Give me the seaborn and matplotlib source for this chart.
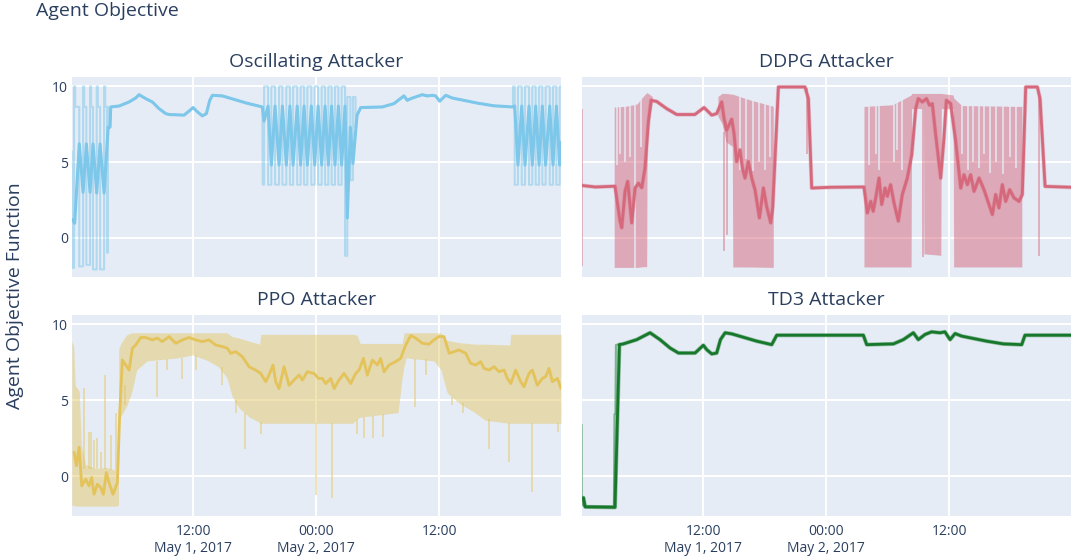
import numpy as np
import seaborn as sns
import matplotlib.pyplot as plt

# all times are hours since 2017-05-01 00:00
nan = np.nan

# ---- Oscillating attacker ----
osc_b1_raw_h = [0.17, 0.2, 0.39, 0.39, 0.5, 0.5, 0.9, 0.9, 1.27, 1.27, 1.38, 1.38, 1.59, 1.59,
                1.95, 1.95, 2.06, 2.06, 2.24, 2.24, 2.6, 2.6, 2.71, 2.71, 2.93, 2.93, 3.32, 3.32,
                3.43, 3.43, 3.62, 3.62, 3.68, 3.68, 3.72, 3.9]
osc_b1_raw_v = [5.7, -2.0, -2.0, 10.0, 10.0, 8.65, 8.65, -1.9, -1.9, 10.0, 10.0, 8.65, 8.65, -1.8,
                -1.8, 10.0, 10.0, 8.65, 8.65, -2.1, -2.1, 10.0, 10.0, 8.65, 8.65, -2.1, -2.1, 10.0,
                10.0, 8.65, 8.65, -1.0, -1.0, 8.65, 7.3, 7.3]
osc_b1_smooth_h = [0.25, 0.45, 0.9, 1.27, 1.59, 1.95, 2.24, 2.6, 2.93, 3.32, 3.72, 3.9]
osc_b1_smooth_v = [1.2, 0.95, 6.2, 3.0, 6.2, 3.0, 6.2, 2.95, 6.2, 2.95, 7.3, 7.3]

osc_mid1_h = [3.97, 4.78, 5.76, 6.4, 6.73, 7.38, 8.03, 8.68, 9.33, 9.66, 11.12, 11.6, 12.0, 12.42,
              12.9, 13.3, 13.63, 13.89, 14.86, 17.2, 18.76]
osc_mid1_v = [8.64, 8.7, 8.97, 9.23, 9.45, 9.19, 8.97, 8.53, 8.2, 8.14, 8.1, 8.36, 8.6, 8.32,
              8.05, 8.2, 9.08, 9.41, 9.37, 8.9, 8.64]

osc_b2_raw_h = [18.8, 18.93, 18.93, 19.32, 19.32, 19.64, 19.64, 20.0, 20.0, 20.39, 20.39, 20.72,
                20.72, 21.1, 21.1, 21.45, 21.45, 21.76, 21.76, 22.16, 22.16, 22.5, 22.5, 22.83,
                22.83, 23.15, 23.15, 23.54, 23.54, 23.87, 23.87, 24.2, 24.2, 24.55, 24.55, 24.88,
                24.88, 25.2, 25.2, 25.52, 25.52, 25.85, 25.85, 26.18, 26.18, 26.5, 26.5, 26.83,
                26.83, 27.05, 27.05, 27.35, 27.35, 27.6, 27.6, 27.85, 27.85, 28.0]
osc_b2_raw_v = [3.5, 3.5, 10, 10, 3.5, 3.5, 10, 10, 3.5, 3.5, 10, 10, 3.5, 3.5, 10, 10,
                3.5, 3.5, 10, 10, 3.5, 3.5, 10, 10, 3.5, 3.5, 10, 10, 3.5, 3.5, 10, 10,
                3.5, 3.5, 10, 10, 3.5, 3.5, 10, 10, 3.5, 3.5, 10, 10, 3.5, 3.5, 10, 10,
                -1.2, -1.2, 9.3, 9.3, 3.8, 3.8, 9.3, 9.3, 7.3, 8.0]
osc_b2_smooth_h = [18.93, 19.32, 19.64, 20.0, 20.39, 20.72, 21.1, 21.45, 21.76, 22.16, 22.5, 22.83,
                   23.15, 23.54, 23.87, 24.2, 24.55, 24.88, 25.2, 25.52, 25.85, 26.18, 26.5, 26.83,
                   27.05, 27.35, 27.6, 28.0]
osc_b2_smooth_v = [7.7, 8.7, 4.8, 8.7, 4.8, 8.7, 4.8, 8.7, 4.8, 8.7, 4.8, 8.7,
                   4.8, 8.7, 4.8, 8.7, 4.8, 8.7, 4.8, 8.7, 4.8, 8.7, 4.8, 8.7,
                   1.3, 7.3, 4.9, 8.1]

osc_mid2_h = [28.36, 30.47, 31.6, 32.58, 32.9, 33.4, 34.37, 34.86, 35.35, 35.67, 36.07, 36.65,
              37.3, 39.7, 41.3, 43.15]
osc_mid2_v = [8.6, 8.64, 8.86, 9.37, 9.08, 9.23, 9.45, 9.37, 9.41, 9.37, 9.02, 9.41,
              9.23, 8.9, 8.72, 8.64]

osc_b3_raw_h = [43.22, 43.22, 43.38, 43.38, 43.7, 43.7, 44.07, 44.07, 44.39, 44.39, 44.78, 44.78,
                45.1, 45.1, 45.43, 45.43, 45.76, 45.76, 46.08, 46.08, 46.4, 46.4, 46.8, 46.8,
                47.12, 47.12, 47.45, 47.45, 47.77, 47.77, 47.9]
osc_b3_raw_v = [8.64, 10, 10, 3.5, 3.5, 10, 10, 3.5, 3.5, 10, 10, 3.5, 3.5, 10, 10, 3.5,
                3.5, 10, 10, 3.5, 3.5, 10, 10, 3.5, 3.5, 10, 10, 3.5, 3.5, 10, 10]
osc_b3_smooth_h = [43.38, 43.7, 44.07, 44.39, 44.78, 45.1, 45.43, 45.76, 46.08, 46.4, 46.8, 47.12,
                   47.45, 47.77, 47.9]
osc_b3_smooth_v = [8.7, 4.8, 8.7, 4.8, 8.7, 4.8, 8.7, 4.8, 8.7, 4.8, 8.7, 4.8, 8.7, 4.8, 6.3]

# ---- DDPG attacker ----
ddpg_h = [0.17, 1.5, 3.41, 3.9, 4.07, 4.39, 4.65, 5.04, 5.37, 5.7, 6.02, 6.34, 6.67, 6.93, 7.48,
          8.45, 9.43, 11.2, 12.1, 12.85, 13.33, 13.82, 14.05, 14.3, 14.8, 15.02, 15.28, 15.6,
          15.84, 16.1, 16.42, 16.75, 17.07, 17.5, 17.89, 18.2, 18.6, 18.8, 19.35, 21.95, 22.28,
          22.6, 24.4, 27.7, 28.03, 28.36, 28.6, 28.85, 29.17, 29.43, 29.76, 29.98, 30.3, 30.63,
          31.05, 31.44, 31.93, 32.36, 32.75, 33.0, 33.4, 33.8, 34.1, 34.37, 34.7, 35.19, 35.5,
          35.74, 36.16, 36.65, 37.14, 37.46, 37.79, 38.11, 38.44, 38.93, 39.41, 39.9, 40.23,
          40.55, 40.87, 41.2, 41.53, 41.92, 42.34, 42.83, 43.15, 43.48, 44.62, 44.88, 45.37, 47.9]
ddpg_v = [3.45, 3.35, 3.4, 1.1, 0.66, 3.06, 3.72, 0.98, 3.28, 3.6, 3.3, 4.6, 7.66, 9.08, 9.0,
          8.53, 8.14, 8.14, 8.6, 8.1, 8.2, 8.97, 7.88, 7.1, 7.83, 6.9, 5.03, 5.8,
          4.6, 3.94, 5.03, 3.94, 3.17, 1.31, 3.28, 2.08, 0.98, 2.0, 9.96, 9.96, 9.19,
          3.28, 3.33, 3.35, 1.64, 2.4, 1.75, 2.63, 3.94, 2.19, 3.28, 2.74, 3.5, 2.3,
          1.1, 2.85, 3.94, 5.47, 8.53, 9.19, 8.97, 9.19, 8.75, 8.86, 6.78, 3.94, 6.56,
          9.08, 8.86, 6.35, 3.28, 4.16, 3.5, 4.16, 3.06, 3.94, 3.17, 2.19, 1.53,
          2.85, 1.97, 3.5, 2.4, 3.17, 2.63, 2.4, 2.85, 9.96, 9.96, 9.19, 3.39, 3.33]
ddpg_band_h = [3.38, 4.5, 5.6, 6.2, 6.55, 6.6, 7.1, 7.2, 13.5, 13.9, 14.3, 14.9, 14.95, 16.5, 18.9,
               19.0, 27.75, 30.5, 31.8, 32.35, 32.4, 33.55, 33.6, 35.25, 35.3, 36.45, 36.5, 37.3,
               43.15, 43.2]
ddpg_band_lo = [-2.0, -2.0, -2.0, -1.95, -1.95, 7.0, 8.9, nan, 8.0, 7.5, 6.3, 6.0, -1.97, -1.97,
                -2.0, nan, -1.97, -1.97, -1.97, -1.97, 8.5, 8.5, -1.1, -1.2, 8.5, 8.5, -1.97,
                -1.97, -1.97, nan]
ddpg_band_hi = [8.6, 8.65, 8.8, 9.3, 9.55, 9.55, 9.3, nan, 9.3, 9.5, 9.5, 9.45, 9.45, 9.1, 8.65,
                nan, 8.64, 8.75, 9.2, 9.4, 9.5, 9.5, 9.5, 9.5, 9.5, 9.4, 9.2, 8.7, 8.64, nan]
ddpg_gap_h = [3.62, 3.9, 4.4, 4.88, 5.38, 5.9, 15.6, 16.2, 16.9, 17.5, 18.0, 18.5, 28.2, 28.85,
              29.2, 30.6, 30.95, 31.4, 37.3, 37.85, 38.3, 38.95, 39.4, 39.95, 40.6, 41.3, 41.9, 42.5]
ddpg_gap_lo = [4.8, 5.5, 5.0, 5.3, -2.0, 6.0, 4.5, 5.2, 4.4, 5.0, 4.5, 5.3, 4.8, 5.5,
               4.5, 5.0, 5.8, 4.5, 5.5, 4.5, 5.0, 4.6, 5.5, 4.3, 5.0, 4.2, 5.3, 4.6]
ddpg_gap_hi = [9.6] * len(ddpg_gap_h)
ddpg_spike_h = [0.17, 14.08, 14.3, 22.1, 33.45, 44.8]
ddpg_spike_lo = [-1.9, -0.9, 0.2, 5.5, -1.3, -1.2]
ddpg_spike_hi = [8.5, 7.0, 7.0, 9.9, 8.5, 9.6]

# ---- PPO attacker ----
ppo_h = [0.39, 0.62, 0.88, 1.14, 1.53, 1.85, 2.11, 2.34, 2.67, 2.99, 3.25, 3.54, 3.8, 4.19, 4.62,
         4.85, 5.1, 5.43, 5.76, 6.08, 6.41, 6.9, 7.38, 8.03, 8.52, 9.0, 9.66, 10.31, 10.96, 11.6,
         12.26, 12.9, 13.56, 14.2, 14.86, 15.35, 15.67, 16.16, 16.81, 17.46, 18.1, 18.6, 19.09,
         19.41, 19.8, 20.07, 20.39, 20.88, 21.37, 21.85, 22.34, 22.67, 23.15, 23.8, 24.23, 24.62,
         24.94, 25.43, 25.76, 26.24, 26.73, 27.06, 27.38, 27.87, 28.2, 28.62, 29.0, 29.5, 29.98,
         30.3, 30.63, 31.12, 31.77, 32.26, 32.75, 33.24, 33.72, 34.37, 35.02, 35.5, 35.98, 36.49,
         36.98, 37.46, 37.95, 38.6, 39.09, 39.58, 40.07, 40.39, 40.88, 41.37, 41.85, 42.34, 42.67,
         42.99, 43.48, 43.97, 44.29, 44.78, 45.1, 45.59, 46.08, 46.4, 46.73, 47.06, 47.55, 47.9]
ppo_v = [1.59, 0.71, 1.92, -0.62, -0.18, -0.62, -0.07, -1.17, -0.51, -0.73, -1.17, 0.26, -0.4,
         -1.17, -0.4, 4.24, 7.66, 7.33, 7.0, 8.43, 8.65, 9.14, 9.14, 8.98, 9.1, 8.87, 9.2, 8.76,
         8.98, 9.14, 8.98, 8.87, 8.98, 8.65, 8.54, 8.43, 8.1, 8.21, 7.88, 7.22, 7.0, 6.78, 6.23,
         6.67, 7.33, 6.23, 5.78, 7.22, 6.0, 6.34, 6.67, 6.34, 6.89, 6.78, 6.45, 6.45, 6.11, 6.45,
         5.78, 6.34, 6.78, 6.45, 6.11, 6.78, 7.0, 7.77, 6.67, 7.66, 7.33, 7.77, 6.89, 7.33, 7.55,
         7.77, 8.65, 9.27, 9.1, 8.76, 8.7, 8.98, 9.2, 9.2, 8.1, 8.21, 8.32, 8.1, 7.44, 7.33, 7.55,
         7.11, 7.0, 7.22, 6.89, 7.0, 6.45, 6.11, 7.0, 6.23, 5.9, 6.78, 7.0, 6.0, 6.45, 6.56, 7.11,
         6.23, 6.45, 5.78]
ppo_band_h = [0.17, 0.35, 0.5, 0.9, 1.1, 1.5, 2.5, 3.5, 4.5, 4.72, 4.75, 5.0, 5.5, 6.0, 6.5, 7.5,
              9.0, 10.5, 12.0, 13.5, 14.5, 15.3, 15.8, 16.5, 17.5, 18.5, 18.6, 23.0, 27.6, 28.0,
              28.3, 32.0, 32.4, 32.6, 32.8, 35.5, 36.2, 36.5, 36.8, 38.0, 39.5, 40.5, 42.9, 43.0, 47.9]
ppo_band_lo = [-1.9, -1.9, -1.95, -1.95, -1.95, -1.95, -1.95, -1.95, -1.95, -1.9, 3.8, 4.0, 4.6,
               5.5, 7.0, 7.6, 7.7, 7.8, 8.0, 7.6, 7.2, 6.5, 5.3, 4.5, 3.9, 3.55, 3.5, 3.5, 3.5, 3.8,
               3.9, 4.2, 6.5, 7.3, 7.8, 7.6, 7.0, 6.2, 5.5, 4.8, 4.2, 3.7, 3.5, 3.5, 3.5]
ppo_band_hi = [8.9, 8.6, 6.0, 5.6, 2.0, 0.8, 0.5, 0.6, 0.4, 0.6, 8.4, 8.8, 9.3, 9.45, 9.45, 9.45,
               9.45, 9.45, 9.45, 9.45, 9.45, 9.45, 9.2, 9.1, 8.9, 8.7, 9.35, 9.35, 9.35, 9.3,
               8.75, 8.75, 8.75, 9.45, 9.45, 9.45, 9.45, 9.1, 8.95, 8.8, 8.7, 8.7, 8.65, 9.35, 9.35]
ppo_spike_h = [1.37, 1.8, 2.0, 2.3, 2.67, 3.0, 3.41, 3.97, 4.45, 5.4, 8.52, 9.5, 10.9, 12.26, 14.86,
               16.16, 17.1, 18.6, 23.97, 25.55, 28.0, 28.7, 29.6, 30.5, 33.7, 34.7, 37.3, 38.3,
               40.85, 42.8, 45.05, 47.62]
ppo_spike_lo = [0.5, 0.5, 0.5, 0.5, 0.5, 0.5, 0.5, 0.4, 0.4, 4.7, 5.2, 7.0, 6.4, 7.0, 6.0, 4.2,
                1.8, 2.8, -1.25, -1.4, 2.8, 2.5, 2.5, 2.6, 4.6, 6.7, 4.7, 4.2, 1.8, 0.95, -1.05, 2.9]
ppo_spike_hi = [5.8, 2.9, 2.9, 2.4, 2.5, 1.6, 6.7, 2.7, 4.2, 6.0, 7.6, 7.7, 7.8, 8.0, 7.2, 5.0,
                4.2, 3.6, 3.5, 3.5, 3.8, 3.9, 4.0, 4.1, 7.7, 7.7, 5.2, 4.8, 3.8, 3.5, 3.5, 3.5]

# ---- TD3 attacker ----
td3_h = [0.33, 0.5, 3.41, 3.84, 4.23, 5.53, 6.83, 7.8, 8.78, 9.6, 11.22, 12.03, 12.36, 12.85,
         13.33, 13.7, 14.15, 14.8, 17.24, 18.7, 19.19, 27.64, 27.97, 30.57, 31.54, 32.52, 33.0,
         33.66, 34.3, 35.12, 35.6, 36.1, 36.59, 37.24, 39.67, 41.3, 43.09, 43.41, 47.9]
td3_v = [-1.4, -2.0, -2.03, 8.67, 8.72, 9.0, 9.45, 9.0, 8.45, 8.12, 8.12, 8.63, 8.34, 8.06,
         8.12, 9.0, 9.45, 9.38, 8.9, 8.67, 9.29, 9.29, 8.67, 8.72, 9.0, 9.45, 9.0,
         9.34, 9.51, 9.45, 9.51, 9.0, 9.4, 9.23, 8.9, 8.72, 8.67, 9.29, 9.29]
td3_raw_h = [0.16, 0.17, 0.3, 0.36, 0.45, 3.3, 3.36, 3.45, 3.5, 3.9]
td3_raw_v = [3.4, -1.8, -1.9, -1.4, -1.97, -1.97, 4.1, 4.1, 8.65, 8.7]

x_ticks = [12, 24, 36]
x_labels = ["12:00\nMay 1, 2017", "00:00\nMay 2, 2017", "12:00"]
y_ticks = [0, 5, 10]

BG = "#E5ECF6"
INK = "#2a3f5f"
C_OSC = "#7cc7ea"
C_DDPG = "#d6687c"
C_PPO = "#e3c35a"
C_TD3 = "#17782b"

sns.set_theme(style="darkgrid", rc={
    "axes.facecolor": BG,
    "grid.color": "white",
    "grid.linewidth": 1.4,
    "text.color": INK,
    "xtick.color": INK,
    "ytick.color": INK,
})
plt.rcParams["font.family"] = ["Open Sans", "DejaVu Sans"]

W, H = 1072, 556
fig = plt.figure(figsize=(W / 100, H / 100), dpi=100)


def make_ax(left, top, right, bottom):
    return fig.add_axes([left / W, 1 - bottom / H, (right - left) / W, (bottom - top) / H])


ax_osc = make_ax(72, 77, 561, 277)
ax_ddpg = make_ax(582, 77, 1071, 277)
ax_ppo = make_ax(72, 315, 561, 516)
ax_td3 = make_ax(582, 315, 1071, 516)

# Oscillating
osc_raw_h = osc_b1_raw_h + osc_mid1_h + osc_b2_raw_h + osc_mid2_h + osc_b3_raw_h
osc_raw_v = osc_b1_raw_v + osc_mid1_v + osc_b2_raw_v + osc_mid2_v + osc_b3_raw_v
osc_h = osc_b1_smooth_h + osc_mid1_h + osc_b2_smooth_h + osc_mid2_h + osc_b3_smooth_h
osc_v = osc_b1_smooth_v + osc_mid1_v + osc_b2_smooth_v + osc_mid2_v + osc_b3_smooth_v
sns.lineplot(x=osc_raw_h, y=osc_raw_v, ax=ax_osc, color=C_OSC, alpha=0.5, lw=1.5,
             estimator=None, sort=False, zorder=2)
sns.lineplot(x=osc_h, y=osc_v, ax=ax_osc, color=C_OSC, lw=2.2, estimator=None, sort=False, zorder=3)

# DDPG
ax_ddpg.fill_between(ddpg_band_h, ddpg_band_lo, ddpg_band_hi, color=C_DDPG, alpha=0.5, lw=0, zorder=1.2)
ax_ddpg.vlines(ddpg_gap_h, ddpg_gap_lo, ddpg_gap_hi, color=BG, lw=1.3, alpha=0.8, zorder=1.4)
ax_ddpg.vlines(ddpg_spike_h, ddpg_spike_lo, ddpg_spike_hi, color=C_DDPG, lw=1.3, alpha=0.5, zorder=1.6)
sns.lineplot(x=ddpg_h, y=ddpg_v, ax=ax_ddpg, color=C_DDPG, alpha=0.35, lw=3.0,
             estimator=None, sort=False, zorder=2)
sns.lineplot(x=ddpg_h, y=ddpg_v, ax=ax_ddpg, color=C_DDPG, lw=2.0, estimator=None, sort=False, zorder=3)

# PPO
ax_ppo.fill_between(ppo_band_h, ppo_band_lo, ppo_band_hi, color=C_PPO, alpha=0.45, lw=0, zorder=1.2)
ax_ppo.vlines(ppo_spike_h, ppo_spike_lo, ppo_spike_hi, color=C_PPO, lw=1.3, alpha=0.5, zorder=1.6)
sns.lineplot(x=ppo_h, y=ppo_v, ax=ax_ppo, color=C_PPO, lw=2.0, estimator=None, sort=False, zorder=3)

# TD3
sns.lineplot(x=td3_raw_h, y=td3_raw_v, ax=ax_td3, color=C_TD3, alpha=0.5, lw=1.5,
             estimator=None, sort=False, zorder=2)
sns.lineplot(x=td3_h, y=td3_v, ax=ax_td3, color=C_TD3, alpha=0.4, lw=3.0,
             estimator=None, sort=False, zorder=2)
sns.lineplot(x=td3_h, y=td3_v, ax=ax_td3, color=C_TD3, lw=2.0, estimator=None, sort=False, zorder=3)

panels = [(ax_osc, "Oscillating Attacker", False, True),
          (ax_ddpg, "DDPG Attacker", False, False),
          (ax_ppo, "PPO Attacker", True, True),
          (ax_td3, "TD3 Attacker", True, False)]
for ax, title, show_x, show_y in panels:
    ax.set_xlim(0.19, 47.9)
    ax.set_ylim(-2.6, 10.62)
    ax.set_xticks(x_ticks)
    ax.set_yticks(y_ticks)
    ax.set_xticklabels(x_labels if show_x else [])
    ax.set_yticklabels([str(t) for t in y_ticks] if show_y else [])
    ax.tick_params(length=0, labelsize=10, colors=INK)
    ax.tick_params(axis="x", pad=6)
    ax.tick_params(axis="y", pad=3)
    for lbl in ax.get_xticklabels():
        lbl.set_linespacing(1.15)
    for s in ax.spines.values():
        s.set_visible(False)
    ax.set_xlabel("")
    ax.set_ylabel("")
    ax.text(0.5, 1.075, title, transform=ax.transAxes, ha="center", va="center",
            fontsize=14, color=INK)

fig.text(36 / W, 1 - 11 / H, "Agent Objective", ha="left", va="center", fontsize=14, color=INK)
fig.text(15 / W, 1 - 296 / H, "Agent Objective Function", rotation=90, ha="center",
         va="center", fontsize=14, color=INK)

fig.savefig("out.png", dpi=100)
